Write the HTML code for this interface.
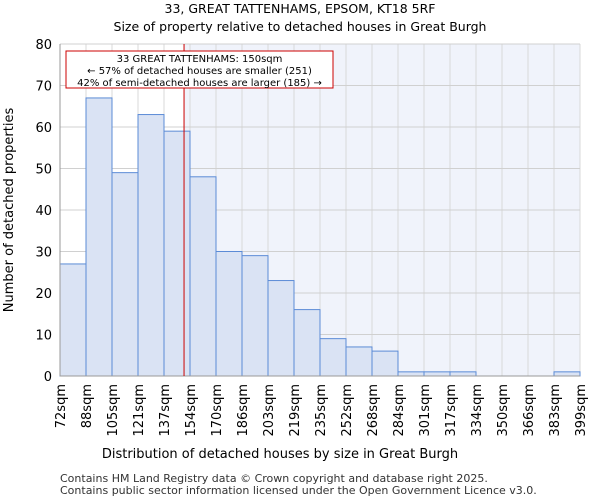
<!DOCTYPE html>
<html><head><meta charset="utf-8"><style>
body{margin:0;background:#fff;font-family:"DejaVu Sans","Liberation Sans",sans-serif}
svg text{font-family:"DejaVu Sans","Liberation Sans",sans-serif}
</style></head><body>
<svg id="c" width="600" height="500" xmlns="http://www.w3.org/2000/svg">
<text x="300" y="13" text-anchor="middle" font-size="12.5">33, GREAT TATTENHAMS, EPSOM, KT18 5RF</text>
<text x="300" y="31" text-anchor="middle" font-size="12.5">Size of property relative to detached houses in Great Burgh</text>
<text x="280" y="458" text-anchor="middle" font-size="13">Distribution of detached houses by size in Great Burgh</text>
<text transform="translate(13,210) rotate(-90)" text-anchor="middle" font-size="13">Number of detached properties</text>
<text x="60" y="482" font-size="11" fill="#333">Contains HM Land Registry data © Crown copyright and database right 2025.</text>
<text x="60" y="494" font-size="11" fill="#333">Contains public sector information licensed under the Open Government Licence v3.0.</text>
</svg>
<script>
const categories=["72sqm","88sqm","105sqm","121sqm","137sqm","154sqm","170sqm","186sqm","203sqm","219sqm","235sqm","252sqm","268sqm","284sqm","301sqm","317sqm","334sqm","350sqm","366sqm","383sqm","399sqm"];
const counts=[27,67,49,63,59,48,30,29,23,16,9,7,6,1,1,1,0,0,0,1];
const yTicks=[0,10,20,30,40,50,60,70,80];
const binStart=72, binWidth=16.35, subjectSize=150;
const X0=60,X1=580,Y0=376,Y1=44;
const svg=document.getElementById('c');const NS="http://www.w3.org/2000/svg";
const n=counts.length;
function xs(i){return X0+(X1-X0)*i/n;}
function xv(v){return xs((v-binStart)/binWidth);}
function ys(v){return Y0-(Y0-Y1)*v/80;}
function mk(t,a,p){const e=document.createElementNS(NS,t);for(const k in a)e.setAttribute(k,a[k]);(p||svg).appendChild(e);return e;}
const rx=xv(subjectSize);
let bg=mk('rect',{x:rx,y:Y1,width:X1-rx,height:Y0-Y1,fill:'#f0f3fb'});


for(let i=0;i<=n;i++){let g=mk('line',{x1:xs(i),x2:xs(i),y1:Y1,y2:Y0,stroke:'#d8d8d8','stroke-width':1});

}
yTicks.forEach(t=>{let g=mk('line',{x1:X0,x2:X1,y1:ys(t),y2:ys(t),stroke:'#d0d0d0','stroke-width':1});


let l=mk('text',{x:X0-8,y:ys(t)+5,'text-anchor':'end','font-size':13});l.textContent=t;

});
counts.forEach((v,i)=>{let b=mk('rect',{x:xs(i),y:ys(v),width:xs(i+1)-xs(i),height:Y0-ys(v),fill:'#dae3f4',stroke:'#5b8bd6','stroke-width':1});

});
categories.forEach((c,i)=>{let l=mk('text',{transform:`translate(${xs(i)+5},384) rotate(-90)`,'text-anchor':'end','font-size':13});l.textContent=c;

});
let ax=mk('line',{x1:X0,x2:X0,y1:Y1,y2:Y0,stroke:'#999'});


let ax2=mk('line',{x1:X0,x2:X1,y1:Y0,y2:Y0,stroke:'#999'});


let rl=mk('line',{x1:rx,x2:rx,y1:Y1,y2:Y0,stroke:'#cc0000','stroke-width':1});


let box=mk('rect',{x:66,y:51,width:267,height:37,fill:'#fff',stroke:'#cc0000','stroke-width':1});


["33 GREAT TATTENHAMS: 150sqm","← 57% of detached houses are smaller (251)","42% of semi-detached houses are larger (185) →"].forEach((s,i)=>{
let t=mk('text',{x:199.5,y:62+i*12,'text-anchor':'middle','font-size':10});t.textContent=s;

});
</script>
</body></html>
